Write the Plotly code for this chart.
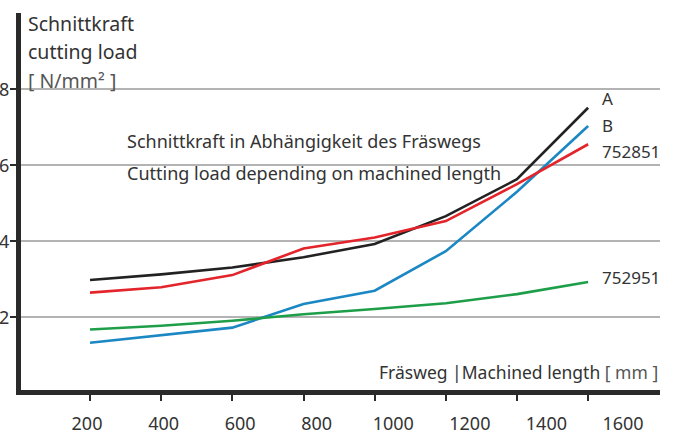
import plotly.graph_objects as go

# Fräsweg / machined length [mm]
weg = [200, 400, 600, 800, 1000, 1200, 1400, 1600]

# Schnittkraft / cutting load [N/mm²]
kraft_a = [2.98, 3.13, 3.31, 3.58, 3.93, 4.66, 5.63, 7.51]
kraft_b = [1.33, 1.53, 1.73, 2.35, 2.70, 3.74, 5.30, 7.03]
kraft_752851 = [2.65, 2.79, 3.11, 3.81, 4.10, 4.53, 5.50, 6.55]
kraft_752951 = [1.68, 1.78, 1.91, 2.08, 2.22, 2.37, 2.61, 2.93]

x_ticks = [200, 400, 600, 800, 1000, 1200, 1400, 1600]
y_ticks = [2, 4, 6, 8]

FONT = "Noto Sans"
TXT = "#333333"
LIGHT = "#555555"

series = [
    ("A", kraft_a, "#222222", 7.74),
    ("B", kraft_b, "#1b87c3", 7.05),
    ("752851", kraft_752851, "#e3242b", 6.37),
    ("752951", kraft_752951, "#1e9e48", 3.06),
]

fig = go.Figure()
for name, vals, col, ylab in series:
    fig.add_trace(go.Scatter(x=weg, y=vals, mode="lines", name=name,
                             line=dict(color=col, width=2.6), showlegend=False))
    fig.add_annotation(x=1634, y=ylab, xref="x", yref="y", text=name,
                       showarrow=False, xanchor="left", yanchor="middle",
                       font=dict(family=FONT, size=17, color=TXT))

# empty trace so the label axis gets drawn
fig.add_trace(go.Scatter(x=[], y=[], xaxis="x2", showlegend=False))

fig.update_layout(
    width=678, height=435,
    margin=dict(l=21, r=18, t=13, b=45),
    paper_bgcolor="white", plot_bgcolor="white",
    font=dict(family=FONT, color=TXT),
    xaxis=dict(range=[6, 1802], tickvals=x_ticks, showticklabels=False,
               showgrid=False, zeroline=False, automargin=False,
               showline=True, linewidth=5, linecolor="#2a2a2a",
               ticks="outside", ticklen=6, tickwidth=2, tickcolor="#2a2a2a"),
    xaxis2=dict(range=[27.6, 1696.7], overlaying="x", side="bottom",
                tickvals=x_ticks, showgrid=False, zeroline=False,
                showline=False, ticks="", ticklabelstandoff=21, automargin=False,
                tickfont=dict(family=FONT, size=18, color=TXT)),
    yaxis=dict(range=[0.09, 10.0], tickvals=y_ticks, automargin=False,
               showticklabels=False,
               showgrid=True, gridcolor="#b3b3b3", gridwidth=1.5,
               zeroline=False, showline=True, linewidth=5, linecolor="#2a2a2a",
               ticks="outside", ticklen=6, tickwidth=2, tickcolor="#2a2a2a"),
)

# y tick labels, partly cut off at the left edge like the original
for v in y_ticks:
    fig.add_annotation(x=-0.015, y=v, xref="paper", yref="y", text=str(v),
                       showarrow=False, xanchor="right", yanchor="middle",
                       font=dict(family=FONT, size=18, color=TXT))

# y axis title block
for txt, yp in [("Schnittkraft", 0.971), ("cutting load", 0.897),
                (f"<span style='color:{LIGHT}'>[ N/mm² ]</span>", 0.822)]:
    fig.add_annotation(x=0.008, y=yp, xref="paper", yref="paper", text=txt,
                       showarrow=False, xanchor="left", yanchor="middle",
                       font=dict(family=FONT, size=19.5, color=TXT))

# chart caption
for txt, yp in [("Schnittkraft in Abhängigkeit des Fräswegs", 0.660),
                ("Cutting load depending on machined length", 0.576)]:
    fig.add_annotation(x=0.163, y=yp, xref="paper", yref="paper", text=txt,
                       showarrow=False, xanchor="left", yanchor="middle",
                       font=dict(family=FONT, size=18, color=TXT))

# x axis title
fig.add_annotation(x=1.0, y=0.0485, xref="paper", yref="paper",
                   text=f"Fräsweg |Machined length <span style='color:{LIGHT}'>[ mm ]</span>",
                   showarrow=False, xanchor="right", yanchor="middle",
                   font=dict(family=FONT, size=17.5, color=TXT))

fig.write_html("out.html", config={"displayModeBar": False},
               post_script="document.body.style.margin='0';")
